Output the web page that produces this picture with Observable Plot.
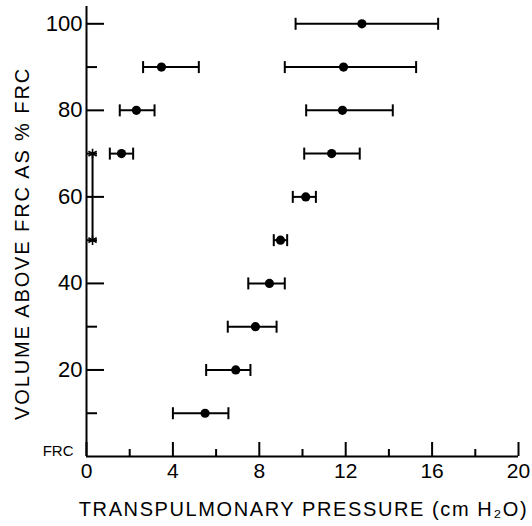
<!DOCTYPE html>
<html><head><meta charset="utf-8">
<script src="https://cdn.jsdelivr.net/npm/d3@7"></script>
<script src="https://cdn.jsdelivr.net/npm/@observablehq/plot@0.6"></script>
<style>html,body{margin:0;background:#fff;overflow:hidden}</style>
</head><body><div id="chart"></div>
<script>
// Series A (right-hand curve): volume (% FRC) and transpulmonary pressure mean / range
const volumeA = [100, 90, 80, 70, 60, 50, 40, 30, 20, 10];
const pressureAMean = [12.75, 11.9, 11.85, 11.35, 10.15, 8.98, 8.47, 7.82, 6.91, 5.49];
const pressureALow  = [9.68, 9.18, 10.17, 10.08, 9.55, 8.67, 7.49, 6.54, 5.54, 4.0];
const pressureAHigh = [16.28, 15.26, 14.18, 12.65, 10.62, 9.29, 9.18, 8.80, 7.59, 6.57];
// Series B (left-hand points)
const volumeB = [90, 80, 70];
const pressureBMean = [3.47, 2.31, 1.62];
const pressureBLow  = [2.62, 1.54, 1.08];
const pressureBHigh = [5.20, 3.15, 2.16];
// Asterisk points joined by a line
const starVolume = [70, 50];
const starPressure = [0.28, 0.28];
// Ticks and labels
const xMajorTicks = [0, 4, 8, 12, 16, 20];
const xMinorTicks = [2, 6, 10, 14, 18];
const yMajorTicks = [20, 40, 60, 80, 100];
const yMinorTicks = [10, 30, 50, 70, 90];
const yBaseTick = [0];
const yBaseLabel = "FRC";
const xTitle = "TRANSPULMONARY PRESSURE (cm H₂O)";
const yTitle = "VOLUME ABOVE FRC AS % FRC";

const A = volumeA.map((v, i) => ({v, m: pressureAMean[i], lo: pressureALow[i], hi: pressureAHigh[i]}));
const B = volumeB.map((v, i) => ({v, m: pressureBMean[i], lo: pressureBLow[i], hi: pressureBHigh[i]}));
const all = A.concat(B);
const stars = starVolume.map((v, i) => ({v, p: starPressure[i]}));

const cap = {draw(ctx, size) { const h = Math.sqrt(size / Math.PI); ctx.moveTo(0, -h); ctx.lineTo(0, h); }};
const font = "Liberation Sans, Arial, sans-serif";

const chart = Plot.plot({
  width: 532, height: 526,
  marginLeft: 86, marginRight: 14, marginTop: 6, marginBottom: 70,
  x: {domain: [0, 20], axis: null},
  y: {domain: [0, 104], axis: null},
  style: {fontFamily: font, color: "#000", background: "#fff"},
  marks: [
    // tick labels
    Plot.axisX({ticks: xMajorTicks, tickSize: 0, tickPadding: 7, fontSize: 21, label: null}),
    Plot.axisY({ticks: yMajorTicks, tickSize: 0, tickPadding: 4, fontSize: 22, label: null}),
    Plot.axisY({ticks: yBaseTick, tickSize: 0, tickPadding: 13, dy: -5, fontSize: 15, tickFormat: () => yBaseLabel, label: null}),
    // titles
    Plot.text([xTitle], {frameAnchor: "bottom", textAnchor: "middle", dx: 1, dy: 59, fontSize: 20, fill: "#000"}),
    Plot.text([yTitle], {frameAnchor: "left", textAnchor: "middle", rotate: -90, dx: -64, dy: 12, fontSize: 20, fill: "#000"}),
    // error bars
    Plot.ruleY(all, {y: "v", x1: "lo", x2: "hi", stroke: "#000", strokeWidth: 2}),
    Plot.dot(all, {x: "lo", y: "v", r: 6, symbol: cap, stroke: "#000", fill: "none", strokeWidth: 2}),
    Plot.dot(all, {x: "hi", y: "v", r: 6, symbol: cap, stroke: "#000", fill: "none", strokeWidth: 2}),
    Plot.dot(all, {x: "m", y: "v", r: 4.6, fill: "#000", stroke: "none"}),
    // asterisks
    Plot.line(stars, {x: "p", y: "v", stroke: "#000", strokeWidth: 2}),
    Plot.dot(stars, {x: "p", y: "v", symbol: "asterisk", r: 4.5, stroke: "#000", strokeWidth: 1.6}),
    // axis lines and inward tick marks
    Plot.ruleY([0], {stroke: "#000", strokeWidth: 2}),
    Plot.ruleX([0], {stroke: "#000", strokeWidth: 2}),
    Plot.ruleX(xMajorTicks, {x: d => d, y1: 0, y2: 0, insetTop: -14, stroke: "#000", strokeWidth: 2}),
    Plot.ruleX(xMinorTicks, {x: d => d, y1: 0, y2: 0, insetTop: -7, stroke: "#000", strokeWidth: 2}),
    Plot.ruleY(yMajorTicks, {y: d => d, x1: 0, x2: 0, insetRight: -18, stroke: "#000", strokeWidth: 2}),
    Plot.ruleY(yMinorTicks, {y: d => d, x1: 0, x2: 0, insetRight: -11, stroke: "#000", strokeWidth: 2})
  ]
});
document.getElementById("chart").appendChild(chart);
const texts = d3.select(chart).selectAll("text");
texts.filter(function() { return this.textContent === xTitle; }).attr("letter-spacing", "1.6");
texts.filter(function() { return this.textContent === yTitle; }).attr("letter-spacing", "1.9");
</script>
</body></html>
